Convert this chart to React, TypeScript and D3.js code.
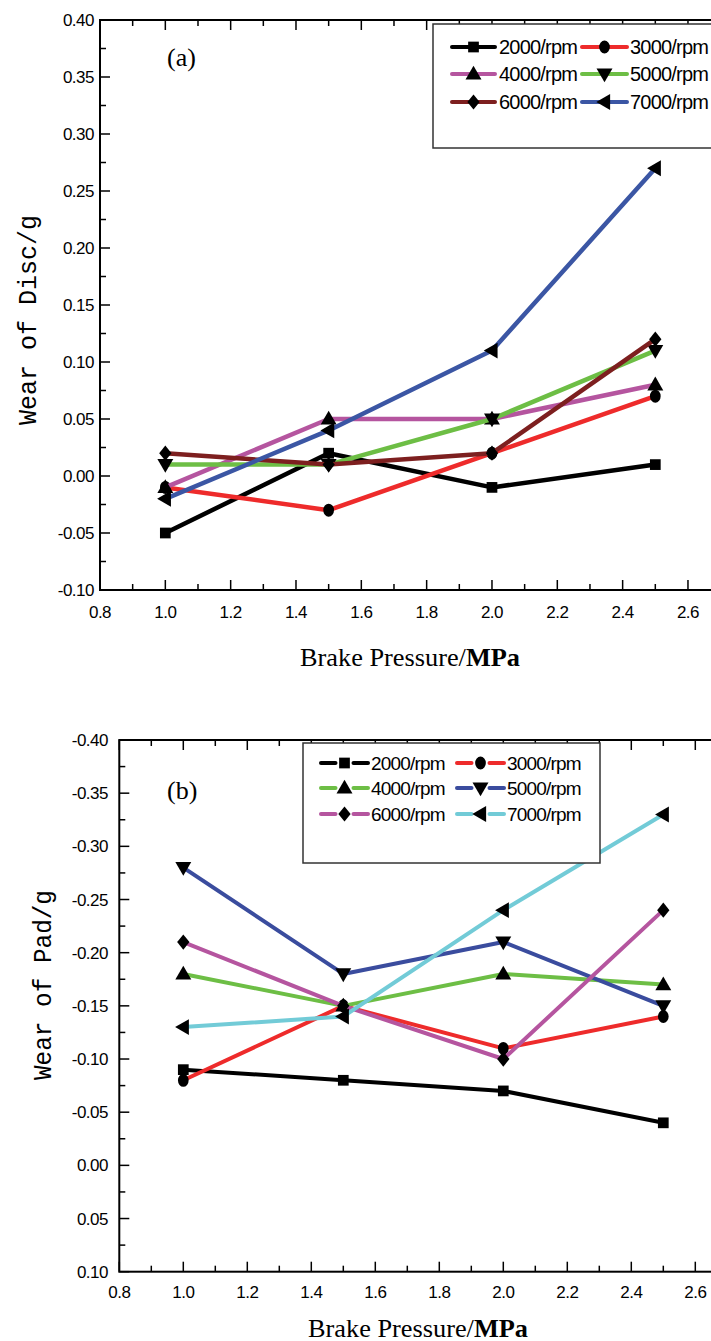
import React from "react";
import * as d3 from "d3";

// ---------- data ----------
const PRESSURE = [1.0, 1.5, 2.0, 2.5];
const SPEEDS = ["2000/rpm", "3000/rpm", "4000/rpm", "5000/rpm", "6000/rpm", "7000/rpm"];

const DISC_2000 = [-0.05, 0.02, -0.01, 0.01];
const DISC_3000 = [-0.01, -0.03, 0.02, 0.07];
const DISC_4000 = [-0.01, 0.05, 0.05, 0.08];
const DISC_5000 = [0.01, 0.01, 0.05, 0.11];
const DISC_6000 = [0.02, 0.01, 0.02, 0.12];
const DISC_7000 = [-0.02, 0.04, 0.11, 0.27];

const PAD_2000 = [-0.09, -0.08, -0.07, -0.04];
const PAD_3000 = [-0.08, -0.15, -0.11, -0.14];
const PAD_4000 = [-0.18, -0.15, -0.18, -0.17];
const PAD_5000 = [-0.28, -0.18, -0.21, -0.15];
const PAD_6000 = [-0.21, -0.15, -0.10, -0.24];
const PAD_7000 = [-0.13, -0.14, -0.24, -0.33];

const X_TICKS = [0.8, 1.0, 1.2, 1.4, 1.6, 1.8, 2.0, 2.2, 2.4, 2.6, 2.8];
const DISC_Y_TICKS = [-0.1, -0.05, 0.0, 0.05, 0.1, 0.15, 0.2, 0.25, 0.3, 0.35, 0.4];
const PAD_Y_TICKS = [-0.4, -0.35, -0.3, -0.25, -0.2, -0.15, -0.1, -0.05, 0.0, 0.05, 0.1];

const MARKERS = ["square", "circle", "triUp", "triDown", "diamond", "triLeft"];
const DISC_COLORS = ["#000000", "#ee2b2b", "#b5559f", "#6dbe45", "#7d1f1f", "#3b56a4"];
const PAD_COLORS = ["#000000", "#ee2b2b", "#6dbe45", "#3a4c9e", "#b5559f", "#72cbd7"];

// ---------- helpers ----------
const sq = d3.symbol().type(d3.symbolSquare).size(115)() as string;
const circ = d3.symbol().type(d3.symbolCircle).size(100)() as string;
const tri = d3.symbol().type(d3.symbolTriangle).size(110)() as string;
const dia = d3.symbol().type(d3.symbolSquare).size(105)() as string;

function Marker({ kind, x, y }: { kind: string; x: number; y: number }) {
  let d = sq;
  let tf = `translate(${x},${y})`;
  if (kind === "circle") { d = circ; tf += " scale(0.95,1.15)"; }
  else if (kind === "triUp") { d = tri; tf += " translate(0,1)"; }
  else if (kind === "triDown") { d = tri; tf += " translate(0,-1) rotate(180)"; }
  else if (kind === "triLeft") { d = tri; tf += " translate(1,0) rotate(-90)"; }
  else if (kind === "diamond") { d = dia; tf += " scale(0.85,1.05) rotate(45)"; }
  return <path d={d} transform={tf} fill="#000" />;
}

type PanelProps = {
  left: number; right: number; top: number; bottom: number;
  yDomain: [number, number]; yTicks: number[];
  series: number[][]; colors: string[];
  label: string; labelX: number; labelY: number;
  yTitle: string; yTitleX: number; yTitleY: number; yTitleLen: number;
  xTitleX: number; xTitleY: number; xTitleLen: number;
  xLabelY: number; yLabelX: number;
  legend: { x: number; y: number; w: number; h: number; rows: number[]; cols: number[][]; textX: number[]; gap: boolean; fs: number };
  lineW: number;
};

function Panel(p: PanelProps) {
  const x = d3.scaleLinear().domain([0.8, 2.8]).range([p.left, p.right]);
  const y = d3.scaleLinear().domain(p.yDomain).range([p.bottom, p.top]);
  const line = d3.line<number>().x((_, i) => x(PRESSURE[i])).y((v) => y(v));
  const minorX = d3.range(0.9, 2.8, 0.2);
  const yStep = (p.yTicks[1] - p.yTicks[0]) / 2;
  const minorY = p.yTicks.slice(0, -1).map((t) => t + yStep);
  const font = "'Liberation Sans', Arial, sans-serif";
  const serif = "'Liberation Serif', 'Times New Roman', serif";
  const mono = "'Liberation Mono', 'Courier New', monospace";
  return (
    <g>
      <rect x={p.left} y={p.top} width={p.right - p.left} height={p.bottom - p.top} fill="none" stroke="#000" strokeWidth={2} />
      {X_TICKS.map((t) => (
        <g key={"xt" + t}>
          <line x1={x(t)} x2={x(t)} y1={p.bottom} y2={p.bottom - 10} stroke="#000" strokeWidth={1.5} />
          <line x1={x(t)} x2={x(t)} y1={p.top} y2={p.top + 10} stroke="#000" strokeWidth={1.5} />
        </g>
      ))}
      {minorX.map((t) => (
        <g key={"xm" + t}>
          <line x1={x(t)} x2={x(t)} y1={p.bottom} y2={p.bottom - 6} stroke="#000" strokeWidth={1.5} />
          <line x1={x(t)} x2={x(t)} y1={p.top} y2={p.top + 6} stroke="#000" strokeWidth={1.5} />
        </g>
      ))}
      {p.yTicks.map((t) => (
        <line key={"yt" + t} x1={p.left} x2={p.left + 10} y1={y(t)} y2={y(t)} stroke="#000" strokeWidth={1.5} />
      ))}
      {minorY.map((t) => (
        <line key={"ym" + t} x1={p.left} x2={p.left + 6} y1={y(t)} y2={y(t)} stroke="#000" strokeWidth={1.5} />
      ))}
      {X_TICKS.slice(0, -1).map((t) => (
        <text key={"xl" + t} x={x(t)} y={p.xLabelY} textAnchor="middle" fontFamily={font} fontSize={17} letterSpacing={-0.5} fill="#000">
          {t.toFixed(1)}
        </text>
      ))}
      {p.yTicks.map((t) => (
        <text key={"yl" + t} x={p.yLabelX} y={y(t) + 6} textAnchor="end" fontFamily={font} fontSize={17} letterSpacing={-0.5} fill="#000">
          {t.toFixed(2)}
        </text>
      ))}
      {p.series.map((vals, si) => (
        <g key={"s" + si}>
          <path d={line(vals) as string} fill="none" stroke={p.colors[si]} strokeWidth={p.lineW} strokeLinejoin="round" />
          {vals.map((v, i) => (
            <Marker key={i} kind={MARKERS[si]} x={x(PRESSURE[i])} y={y(v)} />
          ))}
        </g>
      ))}
      <rect x={p.legend.x} y={p.legend.y} width={p.legend.w} height={p.legend.h} fill="#fff" stroke="#333" strokeWidth={1.5} />
      {SPEEDS.map((name, i) => {
        const row = p.legend.rows[Math.floor(i / 2)];
        const col = p.legend.cols[i % 2];
        const mx = (col[0] + col[1]) / 2;
        return (
          <g key={"lg" + i}>
            {p.legend.gap ? (
              <>
                <line x1={col[0]} x2={mx - 9} y1={row} y2={row} stroke={p.colors[i]} strokeWidth={4} strokeLinecap="round" />
                <line x1={mx + 9} x2={col[1]} y1={row} y2={row} stroke={p.colors[i]} strokeWidth={4} strokeLinecap="round" />
              </>
            ) : (
              <line x1={col[0]} x2={col[1]} y1={row} y2={row} stroke={p.colors[i]} strokeWidth={4} strokeLinecap="round" />
            )}
            <Marker kind={MARKERS[i]} x={mx} y={row} />
            <text x={p.legend.textX[i % 2]} y={row + 7} fontFamily={font} fontSize={p.legend.fs} letterSpacing={-0.8} fill="#000">
              {name}
            </text>
          </g>
        );
      })}
      <text x={p.labelX} y={p.labelY} fontFamily={serif} fontSize={26} fill="#000">{p.label}</text>
      <text x={p.xTitleX} y={p.xTitleY} textAnchor="middle" fontFamily={serif} fontSize={25} fill="#000"
        textLength={p.xTitleLen} lengthAdjust="spacingAndGlyphs">
        Brake Pressure/<tspan fontWeight="bold">MPa</tspan>
      </text>
      <text transform={`translate(${p.yTitleX},${p.yTitleY}) rotate(-90)`} textAnchor="middle" fontFamily={mono}
        fontSize={25} fill="#000" textLength={p.yTitleLen} lengthAdjust="spacingAndGlyphs">
        {p.yTitle}
      </text>
    </g>
  );
}

export default function App() {
  return (
    <svg width={711} height={1341} style={{ position: "absolute", left: 0, top: 0, background: "#fff" }}>
      <rect x={0} y={0} width={711} height={1341} fill="#fff" />
      <Panel
        left={100} right={753.3} top={20} bottom={590}
        yDomain={[-0.1, 0.4]} yTicks={DISC_Y_TICKS}
        series={[DISC_2000, DISC_3000, DISC_4000, DISC_5000, DISC_6000, DISC_7000]}
        colors={DISC_COLORS}
        label="(a)" labelX={167} labelY={66}
        yTitle="Wear of Disc/g" yTitleX={36} yTitleY={320} yTitleLen={210}
        xTitleX={410} xTitleY={666} xTitleLen={220}
        xLabelY={618} yLabelX={94}
        legend={{ x: 433, y: 24, w: 320, h: 124, rows: [47, 74, 102], cols: [[452, 495], [582, 627]], textX: [499, 630], gap: false, fs: 20 }}
        lineW={4.5}
      />
      <Panel
        left={119.3} right={759.3} top={740} bottom={1271.7}
        yDomain={[0.1, -0.4]} yTicks={PAD_Y_TICKS}
        series={[PAD_2000, PAD_3000, PAD_4000, PAD_5000, PAD_6000, PAD_7000]}
        colors={PAD_COLORS}
        label="(b)" labelX={167} labelY={799}
        yTitle="Wear of Pad/g" yTitleX={51} yTitleY={985} yTitleLen={190}
        xTitleX={418} xTitleY={1337} xTitleLen={220}
        xLabelY={1298} yLabelX={108}
        legend={{ x: 303, y: 743, w: 297, h: 120, rows: [763, 788, 814], cols: [[321, 368], [457, 504]], textX: [371, 507], gap: true, fs: 19 }}
        lineW={4}
      />
    </svg>
  );
}
